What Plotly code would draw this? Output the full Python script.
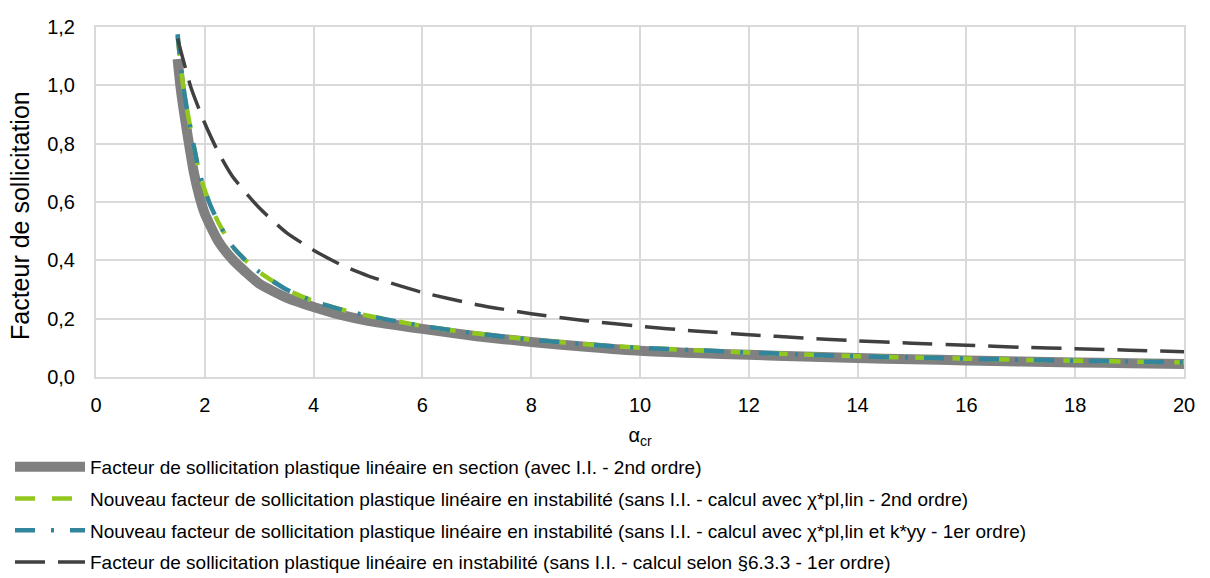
import plotly.graph_objects as go

# ---- data ----
alpha_section = [1.5, 1.55, 1.6, 1.7, 1.8, 1.9, 2.0, 2.25, 2.5, 2.75, 3.0, 3.5, 4.0, 4.5, 5.0,
                 6.0, 7.0, 8.0, 9.0, 10, 11, 12, 13, 14, 15, 16, 17, 18, 19, 20]
f_section = [1.09, 1.00, 0.93, 0.81, 0.70, 0.62, 0.56, 0.465, 0.405, 0.36, 0.32, 0.272, 0.24, 0.213, 0.193,
             0.165, 0.140, 0.120, 0.104, 0.090, 0.082, 0.076, 0.070, 0.065, 0.061, 0.057, 0.053, 0.050, 0.047, 0.045]

alpha_new = [1.5, 1.6, 1.7, 1.8, 1.9, 2.0, 2.1, 2.25, 2.5, 2.75, 3.0, 3.5, 4.0, 4.5, 5.0,
             6.0, 7.0, 8.0, 9.0, 10, 11, 12, 13, 14, 15, 16, 17, 18, 19, 20]
f_new_2nd = [1.17, 1.00, 0.89, 0.79, 0.70, 0.64, 0.59, 0.53, 0.45, 0.40, 0.36, 0.30, 0.26, 0.232, 0.21,
             0.175, 0.149, 0.128, 0.112, 0.100, 0.092, 0.084, 0.077, 0.071, 0.067, 0.063, 0.059, 0.056, 0.053, 0.050]
f_new_1st = [1.175, 1.00, 0.89, 0.79, 0.70, 0.64, 0.59, 0.53, 0.45, 0.40, 0.36, 0.30, 0.26, 0.232, 0.21,
             0.175, 0.149, 0.128, 0.112, 0.100, 0.092, 0.084, 0.077, 0.071, 0.067, 0.063, 0.059, 0.056, 0.053, 0.050]

alpha_633 = [1.5, 1.75, 2.0, 2.25, 2.5, 3.0, 3.5, 4.0, 4.5, 5.0, 6.0, 7.0, 8.0, 9.0, 10,
             11, 12, 13, 14, 15, 16, 17, 18, 19, 20]
f_633 = [1.16, 0.99, 0.87, 0.77, 0.69, 0.58, 0.495, 0.435, 0.385, 0.347, 0.290, 0.248, 0.217, 0.193, 0.174,
         0.158, 0.145, 0.134, 0.124, 0.116, 0.109, 0.102, 0.097, 0.092, 0.087]

names = [
    "Facteur de sollicitation plastique linéaire en section (avec I.I. - 2nd ordre)",
    "Nouveau facteur de sollicitation plastique linéaire en instabilité (sans I.I. - calcul avec χ*pl,lin - 2nd ordre)",
    "Nouveau facteur de sollicitation plastique linéaire en instabilité (sans I.I. - calcul avec χ*pl,lin et k*yy - 1er ordre)",
    "Facteur de sollicitation plastique linéaire en instabilité (sans I.I. - calcul selon §6.3.3 - 1er ordre)",
]

x_ticks = [0, 2, 4, 6, 8, 10, 12, 14, 16, 18, 20]
y_ticks = [0.0, 0.2, 0.4, 0.6, 0.8, 1.0, 1.2]
y_title = "Facteur de sollicitation"

FONT = "Liberation Sans, Arial, sans-serif"

fig = go.Figure()
fig.add_trace(go.Scatter(x=alpha_section, y=f_section, mode="lines", name=names[0],
                         legendgroup="a",
                         line=dict(color="#808080", width=10, shape="spline", smoothing=0.6)))
fig.add_trace(go.Scatter(x=alpha_new, y=f_new_2nd, mode="lines", name=names[1],
                         legendgroup="b",
                         line=dict(color="#92C81E", width=4.5, dash="20px,17px", shape="spline", smoothing=0.6)))
fig.add_trace(go.Scatter(x=alpha_new, y=f_new_1st, mode="lines", name=names[2],
                         legendgroup="c",
                         line=dict(color="#31859C", width=4.5, dash="20px,16px,3px,16px", shape="spline", smoothing=0.6)))
fig.add_trace(go.Scatter(x=alpha_633, y=f_633, mode="lines", name=names[3],
                         legendgroup="d",
                         line=dict(color="#404040", width=3.5, dash="30px,13px", shape="spline", smoothing=0.6)))

fig.update_layout(
    width=1210, height=578,
    paper_bgcolor="white", plot_bgcolor="white",
    margin=dict(l=96, r=26, t=27, b=201, autoexpand=False),
    separators=", ",
    font=dict(family=FONT, size=19, color="#000000"),
    showlegend=True,
    legend=dict(
        orientation="v",
        xref="container", yref="container",
        x=10 / 1210, y=0.225, xanchor="left", yanchor="top",
        font=dict(family=FONT, size=19, color="#000000"),
        itemwidth=70,
        tracegroupgap=4,
        bgcolor="rgba(0,0,0,0)",
    ),
    xaxis=dict(
        range=[0, 20], tickvals=x_ticks, ticktext=[str(v) for v in x_ticks],
        showgrid=True, gridcolor="#d9d9d9", gridwidth=2,
        showline=True, linecolor="#d9d9d9", linewidth=2, mirror=True,
        zeroline=False, ticks="", ticklabelstandoff=9,
        tickfont=dict(family=FONT, size=20, color="#000000"),
        title=dict(text="α<sub>cr</sub>", font=dict(family=FONT, size=20, color="#000000"), standoff=13),
        automargin=False,
    ),
    yaxis=dict(
        range=[0, 1.2], tickvals=y_ticks, ticktext=[f"{v:.1f}".replace(".", ",") for v in y_ticks],
        showgrid=True, gridcolor="#d9d9d9", gridwidth=2,
        showline=True, linecolor="#d9d9d9", linewidth=2, mirror=True,
        zeroline=False, ticks="", ticklabelstandoff=15,
        tickfont=dict(family=FONT, size=20, color="#000000"),
        automargin=False,
    ),
    annotations=[dict(
        text=y_title, textangle=-90, showarrow=False,
        xref="paper", yref="paper", x=(20 - 96) / 1088, y=(377 - 216) / 350,
        xanchor="center", yanchor="middle",
        font=dict(family=FONT, size=25, color="#000000"),
    )],
)

fig.write_html("out.html", config={"displayModeBar": False},
               post_script="document.body.style.margin='0px';document.body.style.padding='0px';")
